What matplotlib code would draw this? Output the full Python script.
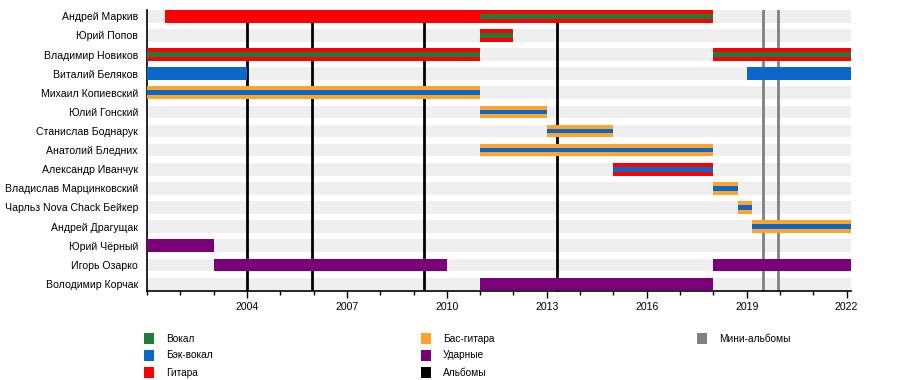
import matplotlib
matplotlib.use("Agg")
import matplotlib.pyplot as plt
from matplotlib.patches import Rectangle
from matplotlib.ticker import MultipleLocator, FixedLocator

plt.rcParams['font.family'] = ['Liberation Sans', 'DejaVu Sans']

# ---------------- data ----------------
members = [
    "Андрей Маркив", "Юрий Попов", "Владимир Новиков", "Виталий Беляков",
    "Михаил Копиевский", "Юлий Гонский", "Станислав Боднарук", "Анатолий Бледних",
    "Александр Иванчук", "Владислав Марцинковский", "Чарльз Nova Chack Бейкер",
    "Андрей Драгущак", "Юрий Чёрный", "Игорь Озарко", "Володимир Корчак",
]

START = 2001.0
END = 2022.13

# one entry per bar
bar_member = [
    "Андрей Маркив", "Андрей Маркив", "Юрий Попов",
    "Владимир Новиков", "Владимир Новиков",
    "Виталий Беляков", "Виталий Беляков",
    "Михаил Копиевский", "Юлий Гонский", "Станислав Боднарук", "Анатолий Бледних",
    "Александр Иванчук", "Владислав Марцинковский", "Чарльз Nova Chack Бейкер",
    "Андрей Драгущак", "Юрий Чёрный", "Игорь Озарко", "Игорь Озарко",
    "Володимир Корчак",
]
bar_start = [2001.55, 2011.0, 2011.0,
             2001.0, 2018.0,
             2001.0, 2019.0,
             2001.0, 2011.0, 2013.0, 2011.0,
             2015.0, 2018.0, 2018.75,
             2019.17, 2001.0, 2003.0, 2018.0,
             2011.0]
bar_end = [2011.0, 2018.0, 2012.0,
           2011.0, END,
           2004.0, END,
           2011.0, 2013.0, 2015.0, 2018.0,
           2018.0, 2018.75, 2019.17,
           END, 2003.0, 2010.0, END,
           2018.0]
bar_role = ["Гитара", "Гитара", "Гитара",
            "Гитара", "Гитара",
            "Бэк-вокал", "Бэк-вокал",
            "Бас-гитара", "Бас-гитара", "Бас-гитара", "Бас-гитара",
            "Гитара", "Бас-гитара", "Бас-гитара",
            "Бас-гитара", "Ударные", "Ударные", "Ударные",
            "Ударные"]
bar_inner = [None, "Вокал", "Вокал",
             "Вокал", "Вокал",
             None, None,
             "Бэк-вокал", "Бэк-вокал", "Бэк-вокал", "Бэк-вокал",
             "Бэк-вокал", "Бэк-вокал", "Бэк-вокал",
             "Бэк-вокал", None, None, None,
             None]

albums = [2004.0, 2005.95, 2009.3, 2013.3]
mini_albums = [2019.5, 2019.95]

role_colors = {
    "Вокал": "#1e7b3c",
    "Бэк-вокал": "#0a66c8",
    "Гитара": "#ff0000",
    "Бас-гитара": "#ffa32a",
    "Ударные": "#7a007a",
    "Альбомы": "#000000",
    "Мини-альбомы": "#808080",
}

legend_cols = [
    ["Вокал", "Бэк-вокал", "Гитара"],
    ["Бас-гитара", "Ударные", "Альбомы"],
    ["Мини-альбомы"],
]

# ---------------- figure ----------------
W, H = 900, 380
fig = plt.figure(figsize=(W / 100, H / 100), dpi=100)

ax_left, ax_right = 147, 851
ax_top, ax_bottom = 10, 291
ax = fig.add_axes([ax_left / W, 1 - ax_bottom / H,
                   (ax_right - ax_left) / W, (ax_bottom - ax_top) / H])

n = len(members)
row_of = {m: i for i, m in enumerate(members)}
main_h = 0.66
inner_h = 0.24

# background stripes
for i in range(n):
    ax.barh(i, END - START, left=START, height=main_h, color="#efefef", zorder=1)

# album lines
for a in albums:
    ax.axvline(a, color=role_colors["Альбомы"], lw=2.0, zorder=2)
for a in mini_albums:
    ax.axvline(a, color=role_colors["Мини-альбомы"], lw=2.0, zorder=2)

# member bars
for m, s, e, r, inner in zip(bar_member, bar_start, bar_end, bar_role, bar_inner):
    y = row_of[m]
    ax.barh(y, e - s, left=s, height=main_h, color=role_colors[r], zorder=3, linewidth=0)
    if inner:
        ax.barh(y, e - s, left=s, height=inner_h, color=role_colors[inner], zorder=4, linewidth=0)

ax.set_xlim(START, END)
ax.set_ylim(14.37, -0.33)

ax.set_yticks(range(n))
ax.set_yticklabels(members, fontsize=7.6)
ax.tick_params(axis="y", length=0, pad=6.5)

ax.xaxis.set_major_locator(FixedLocator([2004, 2007, 2010, 2013, 2016, 2019, 2022]))
ax.xaxis.set_minor_locator(MultipleLocator(1))
ax.tick_params(axis="x", which="major", length=5, width=1, labelsize=7.6, pad=3)
ax.tick_params(axis="x", which="minor", length=3, width=1)

for sp in ("top", "right"):
    ax.spines[sp].set_visible(False)
ax.spines["left"].set_linewidth(1.2)
ax.spines["bottom"].set_linewidth(1.2)

# legend
col_x = [144, 421, 697]
row_y = [338.5, 355.5, 372.5]
sw, sh = 10, 11
for cx, col in zip(col_x, legend_cols):
    for ry, name in zip(row_y, col):
        fig.add_artist(Rectangle((cx / W, 1 - (ry + sh / 2) / H), sw / W, sh / H,
                                 transform=fig.transFigure, color=role_colors[name],
                                 linewidth=0))
        fig.text((cx + 22) / W, 1 - ry / H, name, fontsize=7.3, va="center", ha="left")

fig.savefig("out.png", dpi=100)
